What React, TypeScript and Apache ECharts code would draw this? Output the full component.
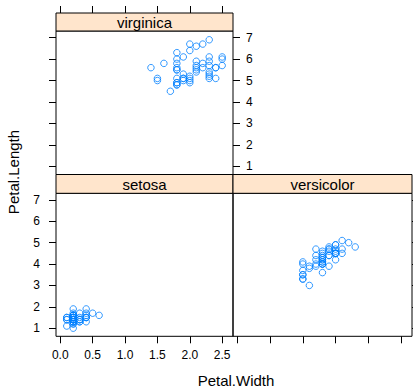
import React, { useEffect, useRef } from "react";
import * as echarts from "echarts";

// iris: [Petal.Width, Petal.Length]
const setosaWidth = [0.2,0.2,0.2,0.2,0.2,0.4,0.3,0.2,0.2,0.1,0.2,0.2,0.1,0.1,0.2,0.4,0.4,0.3,0.3,0.3,0.2,0.4,0.2,0.5,0.2,0.2,0.4,0.2,0.2,0.2,0.2,0.4,0.1,0.2,0.2,0.2,0.2,0.1,0.2,0.2,0.3,0.3,0.2,0.6,0.4,0.3,0.2,0.2,0.2,0.2];
const setosaLength = [1.4,1.4,1.3,1.5,1.4,1.7,1.4,1.5,1.4,1.5,1.5,1.6,1.4,1.1,1.2,1.5,1.3,1.4,1.7,1.5,1.7,1.5,1.0,1.7,1.9,1.6,1.6,1.5,1.4,1.6,1.6,1.5,1.5,1.4,1.5,1.2,1.3,1.4,1.3,1.5,1.3,1.3,1.3,1.6,1.9,1.4,1.6,1.4,1.5,1.4];
const versicolorWidth = [1.4,1.5,1.5,1.3,1.5,1.3,1.6,1.0,1.3,1.4,1.0,1.5,1.0,1.4,1.3,1.4,1.5,1.0,1.5,1.1,1.8,1.3,1.5,1.2,1.3,1.4,1.4,1.7,1.5,1.0,1.1,1.0,1.2,1.6,1.5,1.6,1.5,1.3,1.3,1.3,1.2,1.4,1.2,1.0,1.3,1.2,1.3,1.3,1.1,1.3];
const versicolorLength = [4.7,4.5,4.9,4.0,4.6,4.5,4.7,3.3,4.6,3.9,3.5,4.2,4.0,4.7,3.6,4.4,4.5,4.1,4.5,3.9,4.8,4.0,4.9,4.7,4.3,4.4,4.8,5.0,4.5,3.5,3.8,3.7,3.9,5.1,4.5,4.5,4.7,4.4,4.1,4.0,4.4,4.6,4.0,3.3,4.2,4.2,4.2,4.3,3.0,4.1];
const virginicaWidth = [2.5,1.9,2.1,1.8,2.2,2.1,1.7,1.8,1.8,2.5,2.0,1.9,2.1,2.0,2.4,2.3,1.8,2.2,2.3,1.5,2.3,2.0,2.0,1.8,2.1,1.8,1.8,1.8,2.1,1.6,1.9,2.0,2.2,1.5,1.4,2.3,2.4,1.8,1.8,2.1,2.4,2.3,1.9,2.3,2.5,2.3,1.9,2.0,2.3,1.8];
const virginicaLength = [6.0,5.1,5.9,5.6,5.8,6.6,4.5,6.3,5.8,6.1,5.1,5.3,5.5,5.0,5.1,5.3,5.5,6.7,6.9,5.0,5.7,4.9,6.7,4.9,5.7,6.0,4.8,4.9,5.6,5.8,6.1,6.4,5.6,5.1,5.6,6.1,5.6,5.5,4.8,5.4,5.6,5.1,5.1,5.9,5.7,5.2,5.0,5.2,5.4,5.1];

const panelNames = ["virginica", "setosa", "versicolor"];
const xTicks = [0, 0.5, 1, 1.5, 2, 2.5];
const yTicks = [1, 2, 3, 4, 5, 6, 7];
const xTitle = "Petal.Width";
const yTitle = "Petal.Length";

const X_MIN = -0.066, X_MAX = 2.667;
const Y_MIN = 0.62, Y_MAX = 7.31;

const FONT = "'Liberation Sans', Arial, Helvetica, sans-serif";
const STRIP_FILL = "#ffe5cc";
const POINT = "#0080ff";

function zip(a: number[], b: number[]) {
  return a.map((v, i) => [v, b[i]]);
}

export default function App() {
  const ref = useRef<HTMLDivElement>(null);
  useEffect(() => {
    if (!ref.current) return;
    const chart = echarts.init(ref.current, null, { renderer: "svg" });

    const grids = [
      { left: 56, top: 31, width: 177, height: 143.5 },
      { left: 56, top: 193.3, width: 177, height: 143 },
      { left: 233, top: 193.3, width: 179, height: 143 },
    ].map((g) => ({ ...g, show: true, borderColor: "#000", borderWidth: 1, backgroundColor: "transparent" }));

    const tickStyle = { lineStyle: { color: "#000", width: 1 } };
    const labelStyle = { color: "#000", fontSize: 12, fontFamily: FONT };

    const mkX = (gridIndex: number, position: string, showLabel: boolean, offset = 0) => ({
      type: "value",
      gridIndex,
      position,
      offset,
      min: X_MIN,
      max: X_MAX,
      axisLine: { show: false, onZero: false },
      splitLine: { show: false },
      axisTick: { show: true, length: 7, inside: false, customValues: xTicks, ...tickStyle },
      axisLabel: {
        show: showLabel,
        customValues: xTicks,
        margin: 13,
        formatter: (v: number) => v.toFixed(1),
        ...labelStyle,
      },
    });
    const mkY = (gridIndex: number, position: string, showLabel: boolean, margin = 10) => ({
      type: "value",
      gridIndex,
      position,
      min: Y_MIN,
      max: Y_MAX,
      axisLine: { show: false, onZero: false },
      splitLine: { show: false },
      axisTick: { show: true, length: 7, inside: false, customValues: yTicks, ...tickStyle },
      axisLabel: {
        show: showLabel,
        customValues: yTicks,
        margin,
        formatter: (v: number) => String(v),
        ...labelStyle,
      },
    });

    const xAxis = [
      mkX(0, "top", false, 18),
      mkX(1, "bottom", true),
      mkX(2, "bottom", false),
    ];
    const yAxis = [
      mkY(0, "left", false),
      mkY(0, "right", true, 13),
      mkY(1, "left", true, 16),
      mkY(2, "right", false),
    ];

    const scatter = (data: number[][], xi: number, yi: number) => ({
      type: "scatter",
      xAxisIndex: xi,
      yAxisIndex: yi,
      data,
      symbol: "circle",
      symbolSize: 6.5,
      itemStyle: { color: "transparent", borderColor: POINT, borderWidth: 1 },
      emphasis: { disabled: true },
      silent: true,
    });

    const strip = (x: number, y: number, w: number, h: number, label: string) => [
      {
        type: "rect",
        shape: { x, y, width: w, height: h },
        style: { fill: STRIP_FILL, stroke: "#000", lineWidth: 1 },
        z: 10,
      },
      {
        type: "text",
        x: x + w / 2,
        y: y + h / 2 + 0.5,
        style: {
          text: label,
          fill: "#000",
          font: `15px ${FONT}`,
          textAlign: "center",
          textVerticalAlign: "middle",
        },
        z: 11,
      },
    ];

    chart.setOption({
      animation: false,
      backgroundColor: "#fff",
      grid: grids,
      xAxis,
      yAxis,
      series: [
        scatter(zip(virginicaWidth, virginicaLength), 0, 0),
        scatter(zip(setosaWidth, setosaLength), 1, 2),
        scatter(zip(versicolorWidth, versicolorLength), 2, 3),
      ],
      graphic: [
        ...strip(56, 13, 177, 18, panelNames[0]),
        ...strip(56, 174.5, 177, 18.8, panelNames[1]),
        ...strip(233, 174.5, 179, 18.8, panelNames[2]),
        {
          type: "text",
          x: 236,
          y: 380,
          style: {
            text: xTitle,
            fill: "#000",
            font: `15px ${FONT}`,
            textAlign: "center",
            textVerticalAlign: "middle",
          },
        },
        {
          type: "text",
          x: 13.5,
          y: 172,
          rotation: Math.PI / 2,
          style: {
            text: yTitle,
            fill: "#000",
            font: `15px ${FONT}`,
            textAlign: "center",
            textVerticalAlign: "middle",
          },
        },
      ],
    });
    return () => chart.dispose();
  }, []);

  return (
    <div
      ref={ref}
      style={{ position: "fixed", left: 0, top: 0, width: 413, height: 387, background: "#fff" }}
    />
  );
}
